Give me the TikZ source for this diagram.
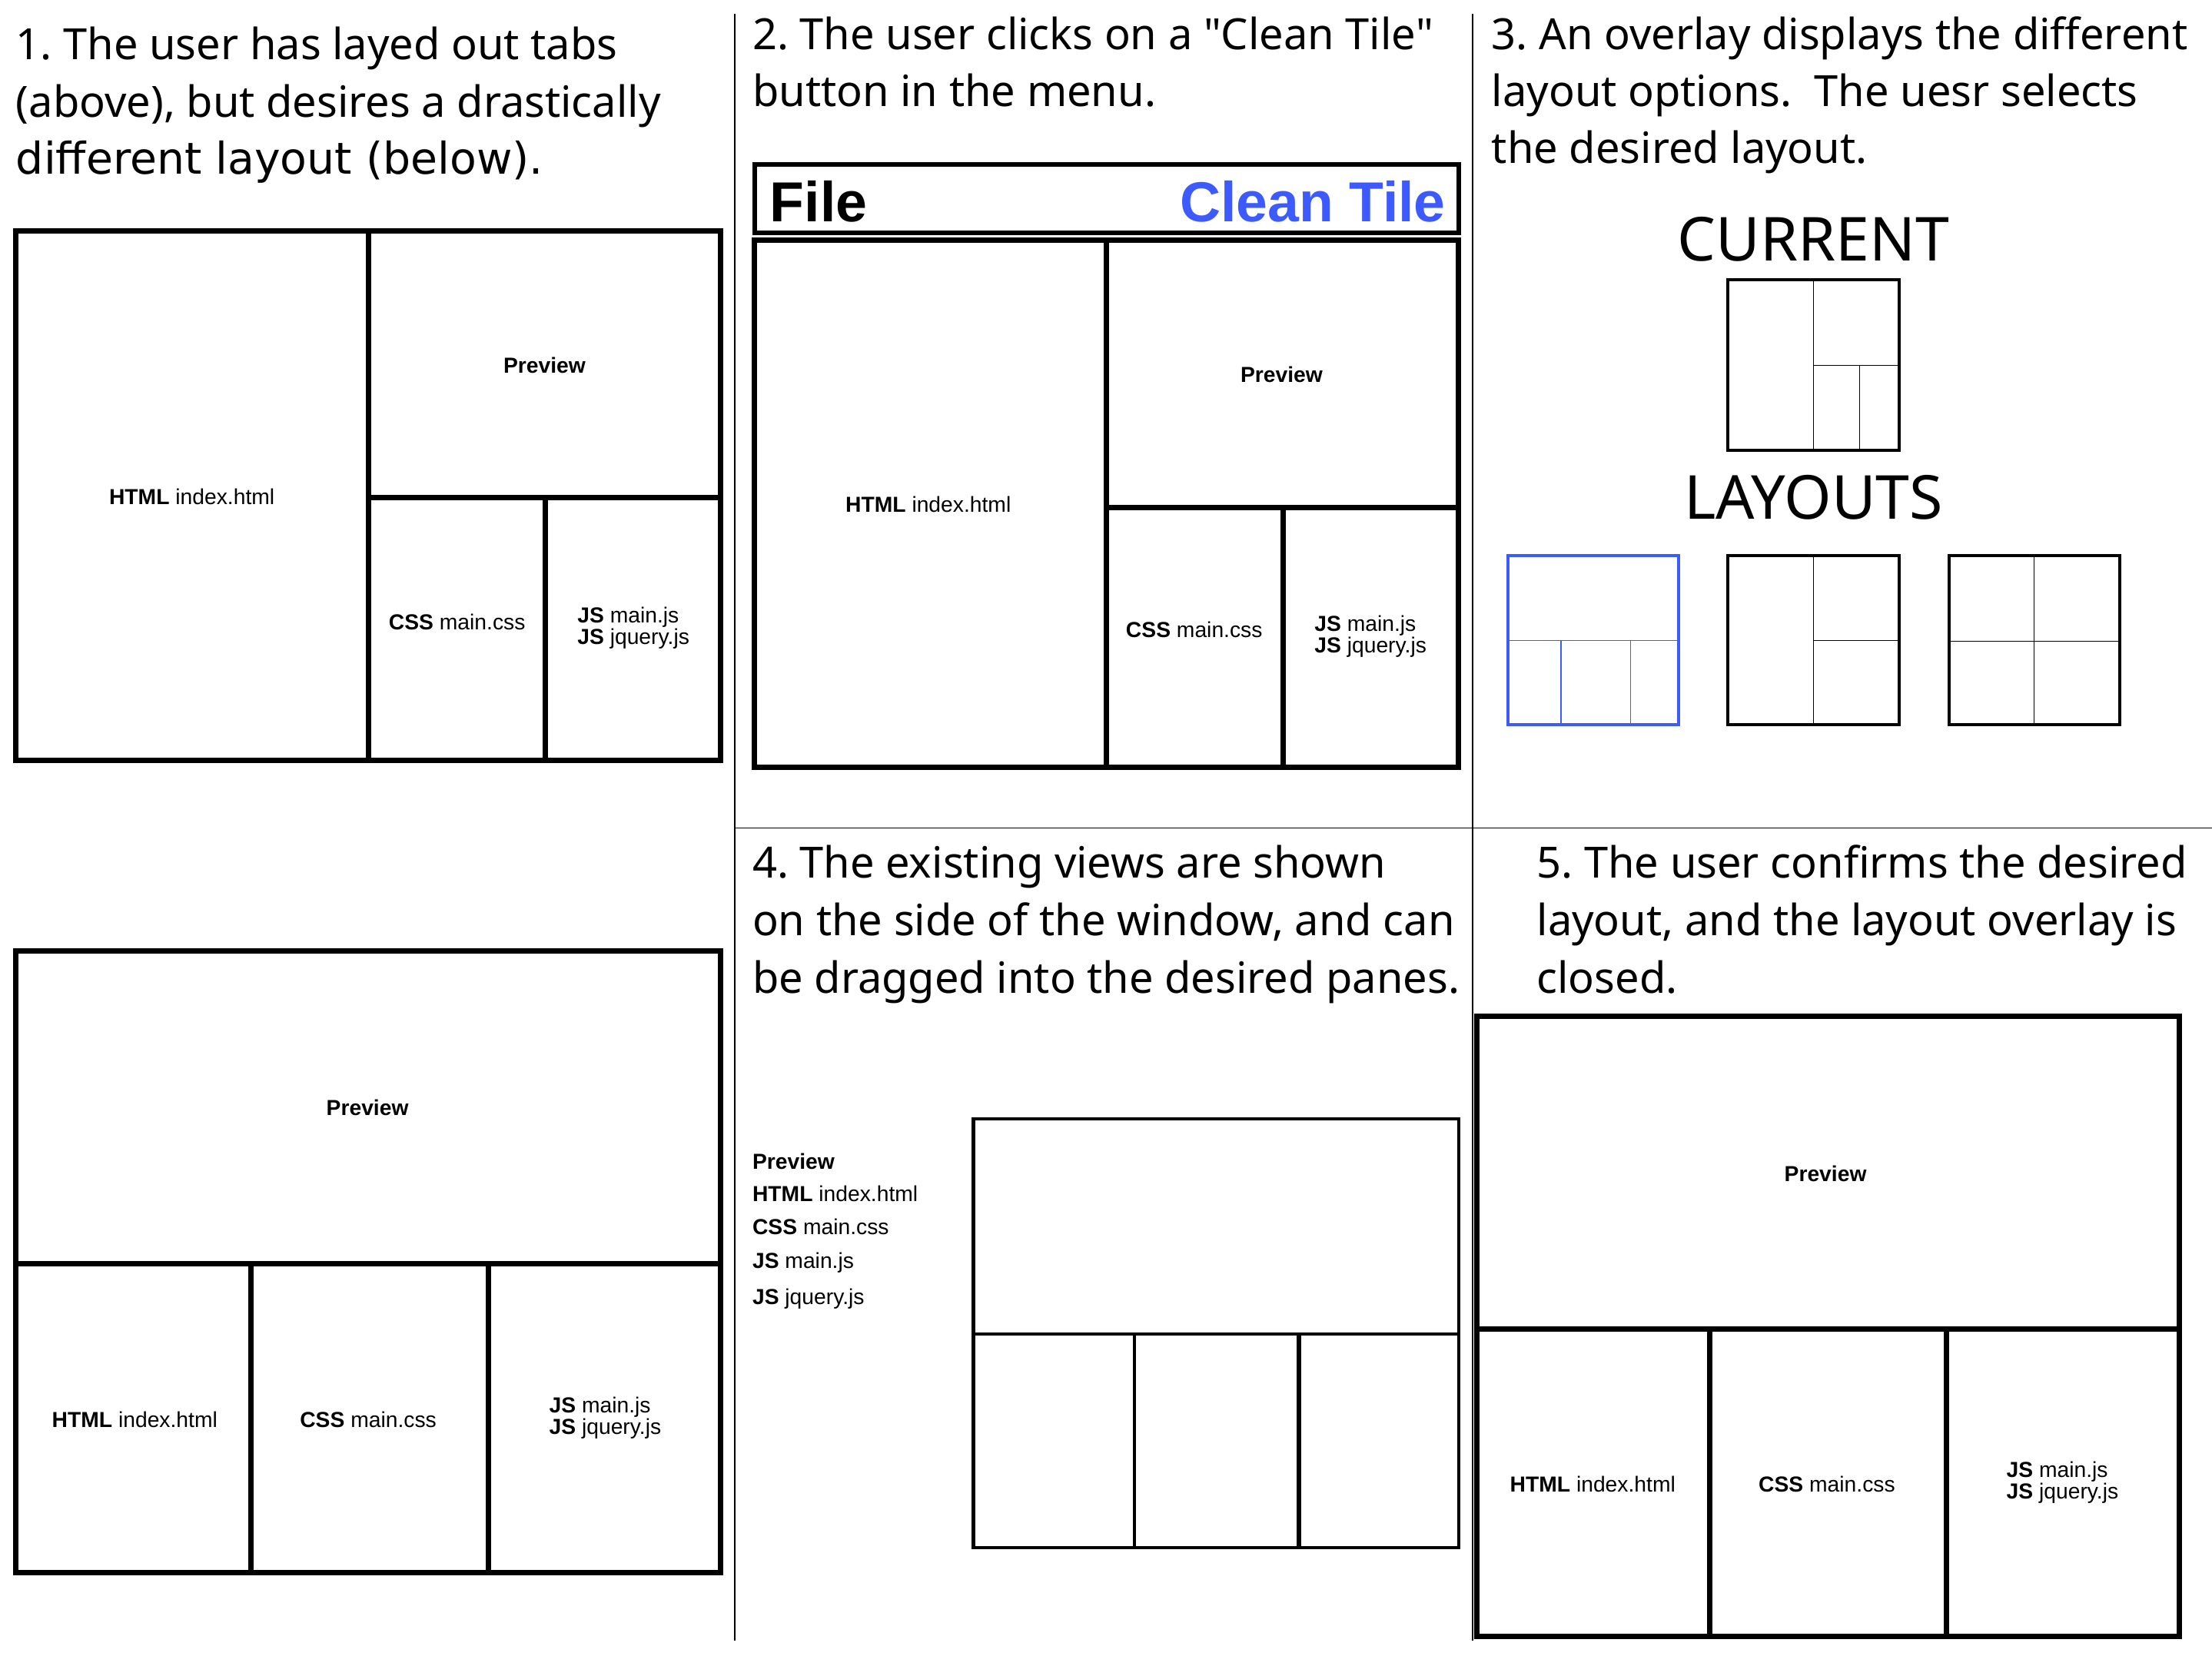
\documentclass[tikz,border=0pt]{standalone}
\usepackage{fontspec}
\setmainfont{Noto Sans}
\newfontfamily\widefont{DejaVu Sans}
\newfontfamily\panefont{Liberation Sans}
\definecolor{tileblue}{RGB}{61,90,254}
\usetikzlibrary{positioning}
\newcommand{\filetab}[2]{\textbf{#1}~#2}
\frenchspacing

\begin{document}
\begin{tikzpicture}[x=0.5pt,y=-0.5pt,
  every node/.style={inner sep=0pt},
  head/.style={anchor=base west,font=\fontsize{15.25}{20}\selectfont},
  pane/.style={font=\panefont\fontsize{7.7}{7.6}\selectfont,align=left},
  big/.style={anchor=base,font=\fontsize{21.5}{24}\selectfont},
  menu/.style={font=\panefont\fontsize{20}{24}\selectfont\bfseries},
  divider/.style={line width=0.5pt},
  frame/.style={line width=1.9pt},
  slim/.style={line width=1.1pt},
  icon/.style={line width=1.1pt},
  iconline/.style={line width=0.35pt}
  ]
  \useasboundingbox (0,0) rectangle (1568,1174);

  % the panel dividers
  \draw[divider] (521,10) -- (521,1163);
  \draw[divider] (1044,10) -- (1044,1163);
  \draw[divider] (521,587) -- (1568,587);

  % panel 1: the tabs as they are
  \node[head] (h1a) at (11,42) {1. The user has layed out tabs};
  \node[head] (h1b) at (11,83) {(above), but desires a drastically};
  \node[head,font=\widefont\fontsize{15.5}{20}\selectfont] (h1c) at (11,123.5) {different layout (below).};
  \draw[frame] (11,163.5) rectangle (511,539);
  \draw[frame] (261.5,163.5) -- (261.5,539);
  \draw[frame] (261.5,353) -- (511,353);
  \draw[frame] (386.5,353) -- (386.5,539);
  \node[pane] (html1) at (136,352) {\filetab{HTML}{index.html}};
  \node[pane] (prev1) at (386,259) {\textbf{Preview}};
  \node[pane] (css1) at (324,441) {\filetab{CSS}{main.css}};
  \node[pane] (js1) at (449,445) {\filetab{JS}{main.js}\\\filetab{JS}{jquery.js}};

  % panel 1: the layout wanted
  \draw[frame] (11,674) rectangle (511,1115);
  \draw[frame] (11,896) -- (511,896);
  \draw[frame] (178,896) -- (178,1115);
  \draw[frame] (346,896) -- (346,1115);
  \node[pane] (prev1b) at (260.5,785.5) {\textbf{Preview}};
  \node[pane] (html1b) at (95.5,1006.5) {\filetab{HTML}{index.html}};
  \node[pane] (css1b) at (261,1006.5) {\filetab{CSS}{main.css}};
  \node[pane] (js1b) at (429,1005.5) {\filetab{JS}{main.js}\\\filetab{JS}{jquery.js}};

  % panel 2: the menu
  \node[head] (h2a) at (533,35) {2. The user clicks on a \textquotedbl Clean Tile\textquotedbl};
  \node[head] (h2b) at (533,75.5) {button in the menu.};
  \draw[line width=1.5pt] (535,116.5) rectangle (1034,165);
  \node[menu,anchor=base west] (file) at (545.5,157) {File};
  \node[menu,anchor=base east,text=tileblue] (clean) at (1025,157) {Clean Tile};
  \draw[frame] (535,170) rectangle (1034,544);
  \draw[frame] (784.5,170) -- (784.5,544);
  \draw[frame] (784.5,360) -- (1034,360);
  \draw[frame] (909.5,360) -- (909.5,544);
  \node[pane] (html2) at (658,357.5) {\filetab{HTML}{index.html}};
  \node[pane] (prev2) at (908.5,265.5) {\textbf{Preview}};
  \node[pane] (css2) at (846.5,446.5) {\filetab{CSS}{main.css}};
  \node[pane] (js2) at (971.5,451) {\filetab{JS}{main.js}\\\filetab{JS}{jquery.js}};

  % panel 3: the overlay
  \node[head] (h3a) at (1057,35) {3. An overlay displays the different};
  \node[head] (h3b) at (1057,75.5) {layout options.\ \ The uesr selects};
  \node[head] (h3c) at (1057,116) {the desired layout.};
  \node[big] (current) at (1285.5,185) {CURRENT};
  \draw[icon] (1225,198.5) rectangle (1346,319);
  \draw[iconline] (1285.5,198.5) -- (1285.5,319);
  \draw[iconline] (1285.5,259) -- (1346,259);
  \draw[iconline] (1318,259) -- (1318,319);
  \node[big] (layouts) at (1285.5,368) {LAYOUTS};
  % the selected layout
  \draw[icon,tileblue] (1069,394) rectangle (1190,514);
  \draw[iconline,tileblue] (1069,454) -- (1190,454);
  \draw[iconline,tileblue] (1106.5,454) -- (1106.5,514);
  \draw[iconline,tileblue] (1156,454) -- (1156,514);
  % the other layouts
  \draw[icon] (1225,394) rectangle (1346,514);
  \draw[iconline] (1285.5,394) -- (1285.5,514);
  \draw[iconline] (1285.5,454) -- (1346,454);
  \draw[icon] (1381.5,394) rectangle (1502.5,514);
  \draw[iconline] (1442,394) -- (1442,514);
  \draw[iconline] (1381.5,454.5) -- (1502.5,454.5);

  % panel 4: dragging the views
  \node[head] (h4a) at (533,622.5) {4. The existing views are shown};
  \node[head] (h4b) at (533,663.5) {on the side of the window, and can};
  \node[head] (h4c) at (533,704) {be dragged into the desired panes.};
  \node[pane,anchor=base west] (view0) at (533,829) {\textbf{Preview}};
  \foreach \kind/\name/\yy [count=\i] in {HTML/index.html/852, CSS/main.css/875.5, JS/main.js/899, JS/jquery.js/925}
    \node[pane,anchor=base west] (view\i) at (533,\yy) {\filetab{\kind}{\name}};
  \draw[slim] (690,793) rectangle (1034,1097.5);
  \draw[slim] (690,946) -- (1034,946);
  \draw[slim] (804,946) -- (804,1097.5);
  \draw[line width=1.6pt] (920.5,946) -- (920.5,1097.5);

  % panel 5: the new layout
  \node[head] (h5a) at (1089,622.5) {5. The user confirms the desired};
  \node[head] (h5b) at (1089,663.5) {layout, and the layout overlay is};
  \node[head] (h5c) at (1089,704) {closed.};
  \draw[frame] (1047,720.5) rectangle (1545,1160);
  \draw[frame] (1047,942) -- (1545,942);
  \draw[frame] (1212,942) -- (1212,1160);
  \draw[frame] (1380,942) -- (1380,1160);
  \node[pane] (prev5) at (1294,832) {\textbf{Preview}};
  \node[pane] (html5) at (1129,1052) {\filetab{HTML}{index.html}};
  \node[pane] (css5) at (1295,1052) {\filetab{CSS}{main.css}};
  \node[pane] (js5) at (1462,1051) {\filetab{JS}{main.js}\\\filetab{JS}{jquery.js}};
\end{tikzpicture}
\end{document}
